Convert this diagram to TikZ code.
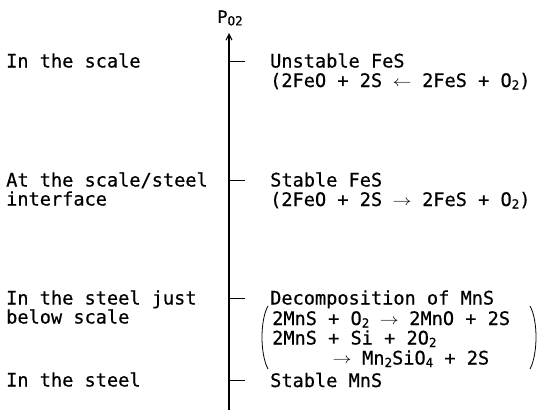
\documentclass[tikz,border=0pt]{standalone}
\usepackage{fontspec}
\usepackage{graphicx}
\setmonofont[FakeBold=0.5]{DejaVu Sans Mono}
\usetikzlibrary{arrows.meta}
\newcommand\lowsub[1]{\raisebox{-2.5pt}{\fontsize{12.5}{12.5}\selectfont #1}}
\newcommand\rarr{\makebox[40pt]{\raisebox{1pt}{\resizebox{19pt}{5.5pt}{$\rightarrow$}}}}
\newcommand\larr{\makebox[40pt]{\raisebox{1pt}{\resizebox{19pt}{5.5pt}{$\leftarrow$}}}}
\tikzset{
  txt/.style={anchor=base west, inner sep=0pt, font=\ttfamily\fontsize{18.6}{19}\selectfont},
  axisline/.style={line width=1.1pt, -{Straight Barb[length=6pt,width=6pt]}},
  tick/.style={line width=0.8pt},
  paren/.style={line width=0.8pt}
}
\begin{document}
\begin{tikzpicture}[x=1pt,y=-1pt]
\useasboundingbox (0,0) rectangle (539,410);
% axis
\coordinate (ab) at (229,410);
\coordinate (at) at (229,33);
\draw[axisline] (ab) -- (at);
\node[inner sep=0pt, font=\ttfamily\fontsize{17}{17}\selectfont] (po2) at (230,18) {P\lowsub{O2}};
% ticks
\coordinate (t1) at (229,61);
\coordinate (t2) at (229,180);
\coordinate (t3) at (229,298);
\coordinate (t4) at (229,380);
\foreach \t in {t1,t2,t3,t4} \draw[tick] (\t) -- ++(16,0);
% left labels
\node[txt] (l1) at (6,67.5) {In the scale};
\node[txt] (l2a) at (6,186.5) {At the scale/steel};
\node[txt] (l2b) at (6,205.5) {interface};
\node[txt] (l3a) at (6,304.5) {In the steel just};
\node[txt] (l3b) at (6,323.5) {below scale};
\node[txt] (l4) at (6,386.5) {In the steel};
% right labels
\node[txt] (r1a) at (270,67.5) {Unstable FeS};
\node[txt] (r1b) at (270,87) {(2FeO + 2S\larr 2FeS + O\lowsub{2})};
\node[txt] (r2a) at (270,186.5) {Stable FeS};
\node[txt] (r2b) at (270,206) {(2FeO + 2S\rarr 2FeS + O\lowsub{2})};
\node[txt] (r3a) at (270,304.5) {Decomposition of MnS};
\node[txt] (r3b) at (272,325) {2MnS + O\lowsub{2}\rarr 2MnO + 2S};
\node[txt] (r3c) at (272,344.5) {2MnS + Si + 2O\lowsub{2}};
\node[txt] (r3d) at (322,364.5) {\rarr Mn\lowsub{2}SiO\lowsub{4} + 2S};
\node[txt] (r4) at (270,387) {Stable MnS};
% parentheses
\draw[paren] (268,306) .. controls (260,320) and (260,354) .. (268,369);
\draw[paren] (530,306) .. controls (538,320) and (538,354) .. (530,369);
\end{tikzpicture}
\end{document}
